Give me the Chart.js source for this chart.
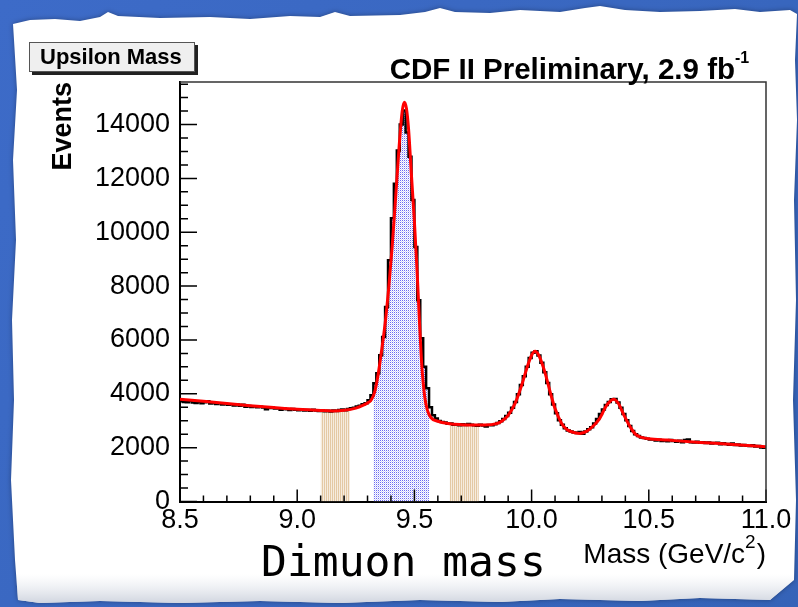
<!DOCTYPE html>
<html>
<head>
<meta charset="utf-8">
<script src="https://cdn.jsdelivr.net/npm/chart.js@4.4.1/dist/chart.umd.min.js"></script>
<style>
  html, body { margin: 0; padding: 0; background: #3e6cc6; overflow: hidden; }
</style>
</head>
<body>
<canvas id="myChart" width="798" height="607"></canvas>
<script>
// dimuon mass histogram, 200 bins of 12.5 MeV between 8.5 and 11.0 GeV/c^2
const massMin = 8.5;
const massMax = 11.0;
const binWidth = 0.0125;

const events = [
  3720, 3700, 3690, 3730, 3680, 3660, 3700, 3650, 3690, 3720,
  3640, 3660, 3620, 3650, 3600, 3620, 3590, 3610, 3570, 3600,
  3560, 3590, 3520, 3550, 3510, 3540, 3500, 3520, 3490, 3430,
  3470, 3480, 3450, 3460, 3410, 3450, 3430, 3400, 3440, 3410,
  3390, 3420, 3380, 3400, 3370, 3410, 3380, 3360, 3390, 3350,
  3370, 3340, 3380, 3360, 3400, 3420, 3390, 3440, 3460, 3480,
  3530, 3560, 3610, 3650, 3765, 3950, 4395, 4765, 5430, 6110,
  7225, 8960, 10520, 11800, 13040, 14000, 14520, 13700, 12800, 11200,
  9450, 7470, 6060, 5000, 4210, 3500, 3200, 3080, 2990, 2950,
  2930, 2890, 2900, 2850, 2860, 2830, 2870, 2840, 2880, 2850,
  2830, 2810, 2850, 2820, 2790, 2840, 2830, 2870, 2920, 2980,
  3060, 3180, 3300, 3480, 3700, 3980, 4330, 4650, 5000, 5330,
  5520, 5580, 5420, 5150, 4800, 4400, 3980, 3600, 3280, 3020,
  2850, 2720, 2640, 2600, 2560, 2540, 2580, 2520, 2600, 2680,
  2760, 2900, 3060, 3250, 3420, 3580, 3700, 3800, 3810, 3680,
  3480, 3250, 3020, 2800, 2620, 2500, 2430, 2380, 2360, 2330,
  2300, 2310, 2270, 2290, 2250, 2270, 2240, 2280, 2250, 2220,
  2260, 2200, 2280, 2300, 2200, 2190, 2220, 2180, 2200, 2170,
  2190, 2150, 2170, 2180, 2130, 2160, 2140, 2110, 2150, 2100,
  2120, 2080, 2100, 2070, 2060, 2090, 2040, 2060, 2010, 2000,
];

// fitted curve (red)
const fitMass = [
  8.50, 8.60, 8.70, 8.80, 8.90, 9.00, 9.10, 9.15, 9.20, 9.25,
  9.28, 9.30, 9.315, 9.33, 9.345, 9.36, 9.375, 9.39, 9.405, 9.42,
  9.435, 9.448, 9.457, 9.466, 9.475, 9.487, 9.50, 9.512, 9.522, 9.532,
  9.544, 9.555, 9.57, 9.60, 9.65, 9.70, 9.75, 9.80, 9.85, 9.875,
  9.90, 9.93, 9.96, 9.98, 10.00, 10.015, 10.03, 10.055, 10.08, 10.10,
  10.128, 10.15, 10.17, 10.205, 10.24, 10.265, 10.29, 10.32, 10.35, 10.37,
  10.39, 10.42, 10.445, 10.47, 10.50, 10.58, 10.72, 10.86, 11.00,
];
const fitEvents = [
  3800, 3720, 3640, 3560, 3490, 3425, 3380, 3365, 3390, 3470,
  3570, 3660, 3760, 4050, 4700, 5600, 6600, 7900, 9450, 11300,
  13200, 14500, 14830, 14600, 13850, 12170, 10400, 8460, 6610, 5000,
  3890, 3400, 3120, 2980, 2890, 2855, 2840, 2840, 2890, 3000,
  3200, 3650, 4380, 4960, 5430, 5580, 5440, 4850, 4040, 3450,
  2900, 2680, 2590, 2530, 2640, 2820, 3080, 3570, 3800, 3650,
  3280, 2780, 2480, 2380, 2330, 2280, 2195, 2120, 2030,
];

// shaded mass windows
const signalRange = [9.325, 9.5625];
const sidebandRanges = [[9.1, 9.225], [9.65, 9.775]];

// axis ticks (labels only on the majors)
const xTickValues = [
  8.5, 8.6, 8.7, 8.8, 8.9, 9.0, 9.1, 9.2, 9.3, 9.4, 9.5, 9.6, 9.7,
  9.8, 9.9, 10.0, 10.1, 10.2, 10.3, 10.4, 10.5, 10.6, 10.7, 10.8, 10.9, 11.0,
];
const yTickValues = [
  0, 500, 1000, 1500, 2000, 2500, 3000, 3500, 4000, 4500, 5000, 5500,
  6000, 6500, 7000, 7500, 8000, 8500, 9000, 9500, 10000, 10500, 11000, 11500,
  12000, 12500, 13000, 13500, 14000, 14500, 15000, 15500,
];
const xMajorStep = 0.5;
const yMajorStep = 2000;
const yMax = 15580;

// histogram as left bin edges, closed with the right edge of the last bin
const histPoints = events.map((v, i) => ({ x: massMin + i * binWidth, y: v }));
histPoints.push({ x: massMax, y: events[events.length - 1] });

function windowPoints([lo, hi]) {
  const pts = [];
  events.forEach((v, i) => {
    const x0 = massMin + i * binWidth;
    if (x0 >= lo - 1e-6 && x0 + binWidth <= hi + 1e-6) pts.push({ x: x0, y: v });
  });
  pts.push({ x: hi, y: pts[pts.length - 1].y });
  return pts;
}

const fitPoints = fitMass.map((m, i) => ({ x: m, y: fitEvents[i] }));

const canvas = document.getElementById("myChart");
const ctx0 = canvas.getContext("2d");

function makePattern(w, h, draw) {
  const c = document.createElement("canvas");
  c.width = w;
  c.height = h;
  draw(c.getContext("2d"));
  return ctx0.createPattern(c, "repeat");
}

// blue dots for the signal window, tan hatching for the sidebands
const bluePattern = makePattern(2, 2, (g) => {
  g.fillStyle = "#ffffff";
  g.fillRect(0, 0, 2, 2);
  g.fillStyle = "#6a6af2";
  g.fillRect(0, 0, 1, 1);
  g.fillStyle = "#d2d2fb";
  g.fillRect(1, 1, 1, 1);
});
const tanPattern = makePattern(2, 1, (g) => {
  g.fillStyle = "#e4c9a4";
  g.fillRect(0, 0, 1, 1);
  g.fillStyle = "#f6ecdf";
  g.fillRect(1, 0, 1, 1);
});

const isMultiple = (v, step) => Math.abs(v / step - Math.round(v / step)) < 1e-6;

// torn paper on a blue board
const paper = {
  id: "paper",
  beforeDraw(chart) {
    const { ctx, width, height } = chart;
    const edge = [
      [13, 24], [30, 20], [55, 19], [80, 21], [100, 17], [108, 12], [118, 16], [160, 18],
      [210, 17], [250, 19], [290, 16], [320, 17], [335, 12], [350, 16], [400, 15], [425, 12],
      [440, 8], [455, 12], [490, 13], [520, 10], [560, 12], [585, 8], [600, 6], [625, 10],
      [660, 12], [700, 11], [735, 9], [760, 12], [790, 10], [797, 14],
      [795, 60], [797, 120], [794, 200], [796, 300], [793, 400], [796, 500], [794, 580],
      [770, 600], [700, 598], [640, 601], [560, 599], [500, 602], [420, 600], [340, 603],
      [260, 601], [180, 603], [100, 601], [40, 603], [18, 600],
      [15, 560], [11, 480], [14, 400], [12, 320], [16, 240], [13, 160], [17, 90], [14, 40],
    ];
    ctx.save();
    const bg = ctx.createLinearGradient(0, 0, width, height);
    bg.addColorStop(0, "#3d6bc8");
    bg.addColorStop(1, "#3563b8");
    ctx.fillStyle = bg;
    ctx.fillRect(0, 0, width, height);
    ctx.beginPath();
    edge.forEach(([px, py], i) => (i ? ctx.lineTo(px, py) : ctx.moveTo(px, py)));
    ctx.closePath();
    ctx.shadowColor = "rgba(0,0,0,0.35)";
    ctx.shadowBlur = 5;
    ctx.fillStyle = "#ffffff";
    ctx.fill();
    ctx.shadowColor = "transparent";
    ctx.clip();
    const fade = ctx.createLinearGradient(0, 574, 0, 604);
    fade.addColorStop(0, "rgba(225,228,235,0)");
    fade.addColorStop(1, "rgba(200,206,218,0.9)");
    ctx.fillStyle = fade;
    ctx.fillRect(0, 574, width, 32);
    ctx.restore();
  },
};

// ROOT style inward ticks, frame and texts
const rootFrame = {
  id: "rootFrame",
  afterDatasetsDraw(chart) {
    const { ctx, chartArea: a, scales: { x, y } } = chart;
    ctx.save();
    ctx.strokeStyle = "#000";
    ctx.lineWidth = 1.5;
    ctx.beginPath();
    x.ticks.forEach((t) => {
      const px = x.getPixelForValue(t.value);
      const len = isMultiple(t.value, xMajorStep) ? 12 : 6;
      ctx.moveTo(px, a.bottom);
      ctx.lineTo(px, a.bottom - len);
    });
    y.ticks.forEach((t) => {
      const py = y.getPixelForValue(t.value);
      const len = isMultiple(t.value, yMajorStep) ? 17 : 8;
      ctx.moveTo(a.left, py);
      ctx.lineTo(a.left + len, py);
    });
    ctx.stroke();
    ctx.strokeStyle = "#333";
    ctx.lineWidth = 1.5;
    ctx.beginPath();
    ctx.moveTo(a.left, a.top);
    ctx.lineTo(a.right, a.top);
    ctx.lineTo(a.right, a.bottom);
    ctx.stroke();
    ctx.restore();
  },
  afterDraw(chart) {
    const { ctx } = chart;
    ctx.save();
    ctx.textBaseline = "alphabetic";

    // histogram name box
    ctx.fillStyle = "#222";
    ctx.fillRect(32, 45, 166, 30);
    ctx.fillStyle = "#efefef";
    ctx.fillRect(29, 42, 166, 30);
    ctx.strokeStyle = "#555";
    ctx.lineWidth = 1;
    ctx.strokeRect(29.5, 42.5, 165, 29);
    ctx.fillStyle = "#000";
    ctx.font = "bold 22px 'Liberation Sans'";
    ctx.textAlign = "left";
    ctx.fillText("Upsilon Mass", 40, 64);

    // title
    ctx.font = "bold 29.5px 'Liberation Sans'";
    ctx.textAlign = "right";
    ctx.fillText("CDF II Preliminary, 2.9 fb", 735, 79);
    ctx.font = "bold 16px 'Liberation Sans'";
    ctx.textAlign = "left";
    ctx.fillText("-1", 735, 63);

    // x axis title
    ctx.textAlign = "right";
    ctx.font = "28px 'Liberation Sans'";
    ctx.fillText(")", 766, 563);
    const parW = ctx.measureText(")").width;
    ctx.font = "19px 'Liberation Sans'";
    ctx.fillText("2", 766 - parW - 1, 548);
    const supW = ctx.measureText("2").width;
    ctx.font = "28px 'Liberation Sans'";
    ctx.fillText("Mass (GeV/c", 766 - parW - supW - 1, 563);

    // caption
    ctx.textAlign = "left";
    ctx.font = "43px 'DejaVu Sans Mono'";
    ctx.fillText("Dimuon mass", 261, 576);
    ctx.restore();
  },
};

const config = {
  type: "line",
  data: {
    datasets: [
      {
        label: "fit",
        data: fitPoints,
        borderColor: "#ff0000",
        borderWidth: 3,
        pointRadius: 0,
        cubicInterpolationMode: "monotone",
        fill: false,
        order: 0,
      },
      {
        label: "data",
        data: histPoints,
        borderColor: "#000000",
        borderWidth: 2.5,
        pointRadius: 0,
        stepped: "before",
        fill: false,
        order: 1,
      },
      {
        label: "signal",
        data: windowPoints(signalRange),
        backgroundColor: bluePattern,
        borderWidth: 0,
        pointRadius: 0,
        stepped: "before",
        fill: "origin",
        order: 2,
      },
      ...sidebandRanges.map((r, k) => ({
        label: "sideband " + (k + 1),
        data: windowPoints(r),
        backgroundColor: tanPattern,
        borderWidth: 0,
        pointRadius: 0,
        stepped: "before",
        fill: "origin",
        order: 2,
      })),
    ],
  },
  options: {
    responsive: false,
    animation: false,
    layout: {
      padding: { left: 0, top: 82, right: 32, bottom: 0 },
    },
    scales: {
      x: {
        type: "linear",
        min: massMin,
        max: massMax,
        afterBuildTicks: (s) => { s.ticks = xTickValues.map((v) => ({ value: v })); },
        afterFit: (s) => { s.height = 105.5; },
        grid: { display: false, drawTicks: false },
        border: { display: true, color: "#000", width: 2 },
        ticks: {
          autoSkip: false,
          maxRotation: 0,
          padding: 3,
          color: "#000",
          font: { family: "Liberation Sans", size: 27 },
          callback: (v) => (isMultiple(v, xMajorStep) ? Number(v).toFixed(1) : ""),
        },
      },
      y: {
        min: 0,
        max: yMax,
        afterBuildTicks: (s) => { s.ticks = yTickValues.map((v) => ({ value: v })); },
        afterFit: (s) => { s.width = 180; },
        grid: { display: false, drawTicks: false },
        border: { display: true, color: "#000", width: 2 },
        ticks: {
          autoSkip: false,
          padding: 10,
          color: "#000",
          font: { family: "Liberation Sans", size: 27 },
          callback: (v) => (isMultiple(v, yMajorStep) ? String(v) : ""),
        },
        title: {
          display: true,
          text: "Events",
          align: "end",
          color: "#000",
          font: { family: "Liberation Sans", size: 27, weight: "bold" },
          padding: { top: 47, bottom: 0 },
        },
      },
    },
    plugins: {
      legend: { display: false },
      tooltip: { enabled: false },
    },
  },
  plugins: [paper, rootFrame],
};

new Chart(canvas, config);
</script>
</body>
</html>
